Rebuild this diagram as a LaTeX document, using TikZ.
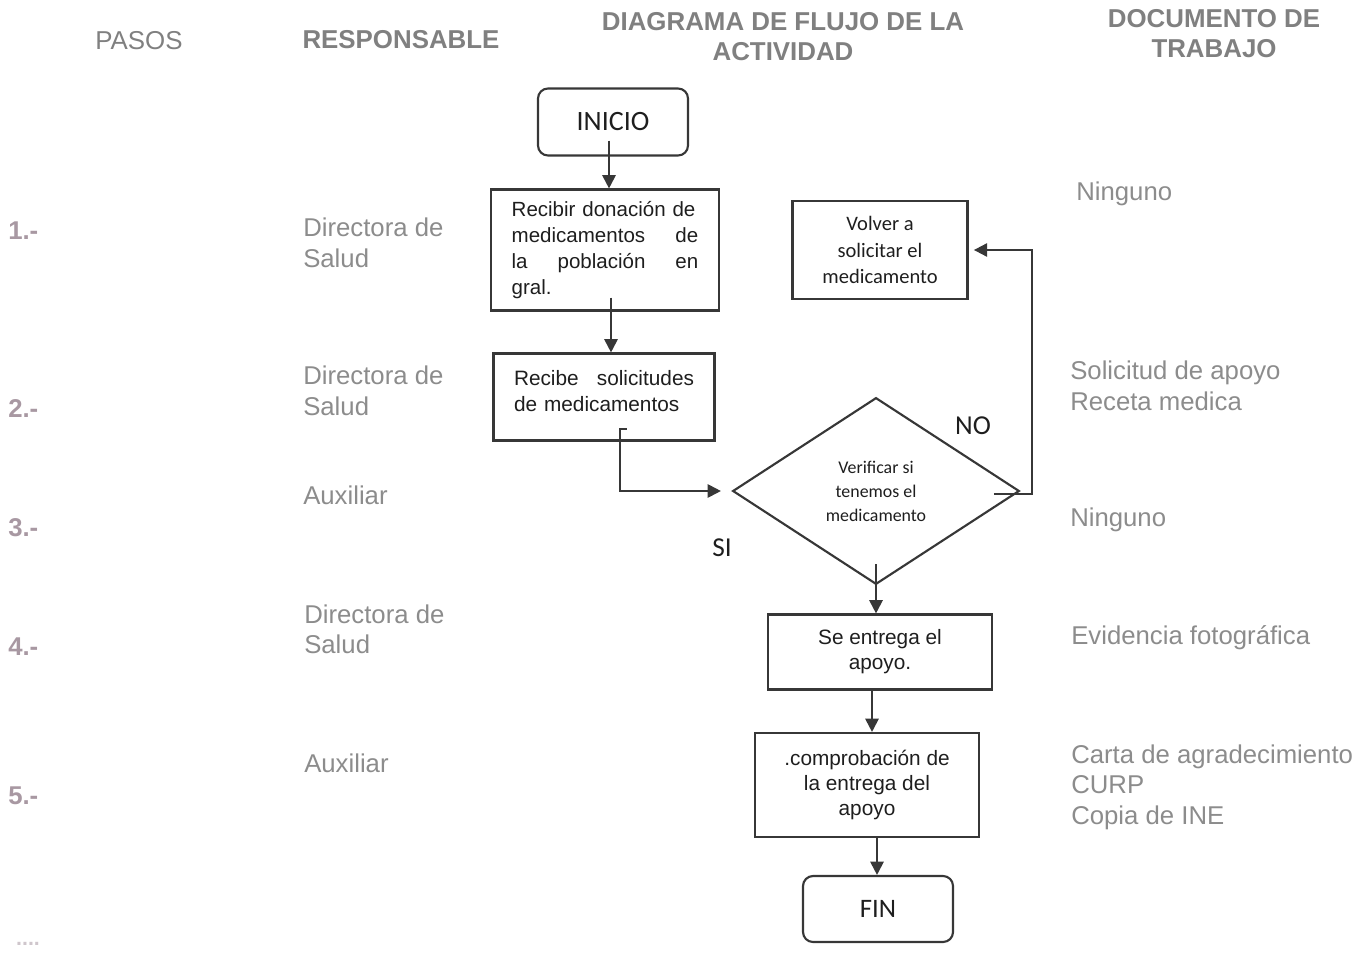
\documentclass[tikz,border=0pt]{standalone}
\usepackage{fontspec}
\setmainfont{Liberation Sans}
\newfontfamily\calfont{Carlito}
\usetikzlibrary{shapes.geometric,arrows.meta,calc}
\definecolor{headgray}{RGB}{128,128,128}
\definecolor{txtgray}{RGB}{140,140,140}
\definecolor{numcol}{RGB}{168,152,162}
\definecolor{linecol}{RGB}{55,55,55}
\definecolor{boxtext}{RGB}{30,30,30}
\begin{document}
\begin{tikzpicture}[x=0.75pt,y=-0.75pt,
  head/.style={inner sep=0, text=headgray, font=\fontsize{19.4}{22.5}\selectfont\bfseries, align=center},
  headr/.style={inner sep=0, text=headgray, font=\fontsize{19.4}{22.5}\selectfont, align=center},
  body/.style={inner sep=0, anchor=west, text=txtgray, font=\fontsize{19.3}{22.8}\selectfont, align=left},
  num/.style={inner sep=0, anchor=west, text=numcol, font=\fontsize{19.3}{22.5}\selectfont\bfseries},
  procbox/.style={draw=linecol, line width=1.6pt, text=boxtext, inner ysep=0pt,
     font=\fontsize{15.6}{19.3}\selectfont},
  term/.style={draw=linecol, line width=1.6pt, rounded corners=7.5pt, text=boxtext,
     font=\calfont\fontsize{21}{24}\selectfont, minimum width=112.5pt},
  arr/.style={draw=linecol, line width=1.5pt, -{Triangle[length=10pt,width=10pt]}},
  lbl/.style={inner sep=0, text=boxtext, font=\calfont\fontsize{20.5}{24}\selectfont}]
\useasboundingbox (0,0) rectangle (1369,955);

% headers
\node[headr] (hpasos) at (139,41) {PASOS};
\node[head] (hresp) at (401,40) {RESPONSABLE};
\node[head] (hdiag) at (783,37) {DIAGRAMA DE FLUJO DE LA\\ACTIVIDAD};
\node[head] (hdoc) at (1214,34) {DOCUMENTO DE\\TRABAJO};

% step numbers
\node[num] (n1) at (8,231) {1.-};
\node[num] (n2) at (8,409) {2.-};
\node[num] (n3) at (8,528) {3.-};
\node[num] (n4) at (8,647) {4.-};
\node[num] (n5) at (8,796) {5.-};
\node[inner sep=0, text=numcol!55, font=\fontsize{16}{18}\selectfont\bfseries] (dots) at (28,944) {....};

% responsible
\node[body] (r1) at (303,243) {Directora de\\Salud};
\node[body] (r2) at (303,391) {Directora de\\Salud};
\node[body] (r3) at (303,495) {Auxiliar};
\node[body] (r4) at (304,629) {Directora de\\Salud};
\node[body] (r5) at (304,763) {Auxiliar};

% documents
\node[body] (d1) at (1076,194) {Ninguno};
\node[body] (d2) at (1070,386) {Solicitud de apoyo\\Receta medica};
\node[body] (d3) at (1070,520) {Ninguno};
\node[body] (d4) at (1071,638) {Evidencia fotográfica};
\node[body] (d5) at (1071,787) {Carta de agradecimiento\\CURP\\Copia de INE};

% flowchart
\node[term, minimum height=50.25pt] (ini) at (613,122) {INICIO};
\node[procbox, text width=140pt, inner xsep=15.5pt, minimum height=90.75pt, align=left,
  font=\fontsize{15.4}{19.3}\selectfont] (b1) at (605,250)
  {\mbox{Recibir donación de}\\medicamentos\hfill de\\la\hfill población\hfill en\\gral.};
\node[procbox, text width=135pt, inner xsep=15.4pt, minimum height=65.25pt, align=left] (b2) at (604,397)
  {Recibe\hfill solicitudes\\de medicamentos\\[-10.3pt]\mbox{}};
\node[draw=linecol, line width=1.6pt, diamond, minimum width=215pt, minimum height=140pt, inner sep=0,
  text=boxtext, align=center, font=\calfont\fontsize{13.4}{18}\selectfont] (dia) at (876,491)
  {Verificar si\\tenemos el\\medicamento};
\node[procbox, minimum width=131.25pt, minimum height=73.5pt, align=center,
  font=\calfont\fontsize{15.4}{20.2}\selectfont] (vol) at (880,250)
  {Volver a\\solicitar el\\medicamento};
\node[procbox, minimum width=168pt, minimum height=56.25pt, align=center,
  font=\fontsize{15.6}{18.8}\selectfont] (b3) at (880,652) {Se entrega el\\apoyo.};
\node[procbox, minimum width=168pt, minimum height=78pt, align=center,
  font=\fontsize{15.6}{19.1}\selectfont] (b4) at (867,785) {.comprobación de\\la entrega del\\apoyo};
\node[term, minimum height=49.5pt, font=\calfont\fontsize{20}{24}\selectfont] (fin) at (878,909) {FIN};

\node[lbl] (no) at (973,426) {NO};
\node[lbl] (si) at (722,548) {SI};

% connectors
\draw[arr] ([xshift=-3pt,yshift=12pt]ini.south) -- ([xshift=-3pt]ini.south |- b1.north);
\draw[arr] ([xshift=4.5pt,yshift=10.5pt]b1.south) -- ([xshift=4.5pt]b1.south |- b2.north);
\coordinate (t) at ([xshift=12pt,yshift=9.75pt]b2.south);
\draw[arr, shorten >=8pt] ([xshift=5pt]t) -- (t) |- (dia.west);
\draw[arr, shorten >=4pt] ([xshift=-20pt,yshift=-2pt]dia.east) -- ++(38,0) |- (vol.east);
\draw[arr] ([yshift=16pt]dia.south) -- (dia.south |- b3.north);
\draw[arr] ([xshift=-6pt]b3.south) -- ([xshift=-6pt]b3.south |- b4.north);
\draw[arr] ([xshift=7.5pt]b4.south) -- ([xshift=7.5pt]b4.south |- fin.north);
\end{tikzpicture}
\end{document}
